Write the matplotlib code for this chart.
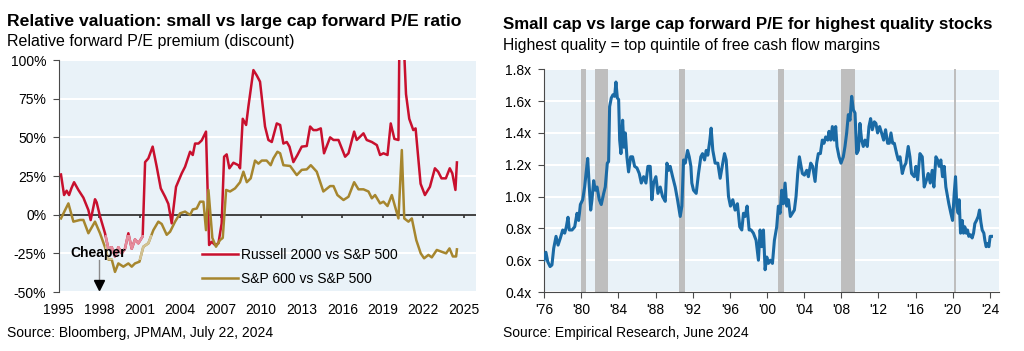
import matplotlib.pyplot as plt
from matplotlib.patches import Rectangle

plt.rcParams['font.family'] = ['Liberation Sans', 'DejaVu Sans']

# Left panel: relative forward P/E premium (discount), %
russell_years = [1995.17, 1995.40, 1995.59, 1995.77, 1995.94, 1996.14, 1996.46, 1996.83, 1997.20, 1997.37,
                 1997.69, 1997.81, 1998.06, 1998.43, 1998.68, 1998.93, 1999.17, 1999.42, 1999.67, 1999.91,
                 2000.16, 2000.41, 2000.65, 2000.90, 2001.22, 2001.40, 2001.64, 2001.96, 2002.26, 2002.56,
                 2002.88, 2003.12, 2003.37, 2003.69, 2004.11, 2004.36, 2004.73, 2004.93, 2005.10, 2005.35,
                 2005.59, 2005.91, 2006.14, 2006.33, 2006.58, 2006.83, 2007.07, 2007.25, 2007.44, 2007.64,
                 2007.94, 2008.31, 2008.43, 2008.63, 2008.88, 2009.05, 2009.42, 2009.67, 2009.91, 2010.28,
                 2010.53, 2010.78, 2011.15, 2011.40, 2011.64, 2011.89, 2012.09, 2012.38, 2012.68, 2013.00,
                 2013.37, 2013.62, 2013.86, 2014.11, 2014.41, 2014.65, 2015.10, 2015.35, 2015.72, 2016.21,
                 2016.46, 2016.88, 2017.07, 2017.57, 2017.81, 2018.19, 2018.56, 2018.80, 2019.05, 2019.35,
                 2019.59, 2019.86, 2020.16, 2020.25, 2020.46, 2020.72, 2020.96, 2021.26, 2021.43, 2021.80,
                 2022.12, 2022.49, 2022.86, 2023.10, 2023.35, 2023.67, 2023.96, 2024.15, 2024.38, 2024.49]
russell_pe = [26, 12.7, 15.5, 12.7, 17, 21, 16, 11, 3, -3.5,
              10, 8, -1, -12, -22, -21, -27, -21, -25, -22,
              -12, -22, -16, -18.5, -14, 34, 36.4, 44, 31, 17,
              11.6, 7, -5.6, 18, 26.7, 31, 40.7, 38.6, 46, 46,
              48, 53.7, -19.6, -17.5, -19.6, -18.5, -5.6, 37.5, 39, 30,
              33.6, 32, 30, 62, 58, 70, 93.5, 90, 86, 57,
              48.3, 47, 59, 58, 46, 47, 44, 34, 38.6, 44,
              44.4, 57, 54.7, 54.7, 55.8, 39.7, 50, 48.3, 48.3, 37.5,
              39.7, 53.7, 48.3, 52.6, 48.3, 47, 45, 38.6, 39.7, 38.6,
              59, 49, 48.3, 130, 130, 78, 62, 54.7, 55.8, 20,
              12.7, 18, 30, 27.8, 23.5, 23.5, 30, 26.7, 16, 33.8]

sp600_years = [1995.17, 1995.72, 1996.09, 1996.58, 1996.83, 1997.20, 1997.69, 1998.06, 1998.43, 1998.68,
               1998.93, 1999.17, 1999.42, 1999.79, 2000.16, 2000.41, 2000.65, 2000.98, 2001.27, 2001.64,
               2002.01, 2002.38, 2002.63, 2003.00, 2003.25, 2003.62, 2003.99, 2004.36, 2004.73, 2004.93,
               2005.22, 2005.47, 2005.72, 2005.91, 2006.09, 2006.38, 2006.65, 2006.95, 2007.15, 2007.40,
               2007.69, 2008.06, 2008.43, 2008.68, 2008.93, 2009.22, 2009.54, 2009.79, 2010.04, 2010.40,
               2010.70, 2010.90, 2011.20, 2011.40, 2011.64, 2012.14, 2012.63, 2013.00, 2013.37, 2013.67,
               2014.11, 2014.60, 2015.10, 2015.35, 2015.64, 2016.09, 2016.46, 2016.88, 2017.20, 2017.57,
               2017.94, 2018.19, 2018.43, 2018.80, 2019.05, 2019.35, 2019.67, 2019.91, 2020.16, 2020.41,
               2020.59, 2020.90, 2021.15, 2021.48, 2021.81, 2022.06, 2022.38, 2022.63, 2023.00, 2023.37,
               2023.69, 2023.94, 2024.19, 2024.43, 2024.49]
sp600_pe = [-2.4, 7.3, -4.5, -3.4, -3.4, -12, -4.5, -12, -21, -29,
            -29, -37, -31.5, -33.6, -31.5, -33.6, -31.5, -30.4, -20.7, -18.5,
            -10, -4.5, -6, -13, -11, -4.5, 0.9, 2, -0.2, 3.4,
            4, 8.4, 8.4, -10, 16, -15, -20.7, -16.4, -15, 16,
            15, 17, 21, 27.8, 21, 23.5, 35, 33, 35, 35,
            32, 36.4, 40.7, 39.7, 32, 31.5, 25.6, 29, 29.3, 32,
            27.8, 15, 18.5, 18.5, 12.7, 9.5, 11.6, 21, 16.4, 16.4,
            15, 10.6, 12.7, 7.3, 8.4, 5.6, 12.7, 5.2, -2.4, 41.8,
            -2.4, -4.5, -2.4, -16.4, -25, -28.2, -26, -27.6, -22.8, -24,
            -25, -21.8, -27, -27, -22.4]

pe_ticks = [-50, -25, 0, 25, 50, 75, 100]
pe_labels = ['-50%', '-25%', '0%', '25%', '50%', '75%', '100%']
year_ticks = list(range(1995, 2026, 3))

# Right panel: small vs large cap forward P/E, highest quality stocks
quality_years = [1976.00, 1976.20, 1976.40, 1976.65, 1976.85, 1977.04, 1977.29, 1977.51, 1977.76, 1978.01,
                 1978.22, 1978.40, 1978.58, 1978.72, 1979.01, 1979.30, 1979.55, 1979.73, 1979.91, 1980.16,
                 1980.37, 1980.52, 1980.70, 1980.87, 1981.02, 1981.16, 1981.34, 1981.52, 1981.70, 1981.95,
                 1982.16, 1982.42, 1982.59, 1982.81, 1982.95, 1983.06, 1983.24, 1983.42, 1983.60, 1983.74,
                 1983.89, 1984.03, 1984.14, 1984.28, 1984.46, 1984.60, 1984.75, 1984.92, 1985.10, 1985.32,
                 1985.53, 1985.75, 1986.00, 1986.25, 1986.47, 1986.72, 1986.97, 1987.18, 1987.43, 1987.61,
                 1987.79, 1988.04, 1988.26, 1988.51, 1988.76, 1989.05, 1989.23, 1989.41, 1989.58, 1989.84,
                 1990.12, 1990.37, 1990.66, 1990.84, 1991.02, 1991.20, 1991.45, 1991.63, 1991.81, 1991.91,
                 1992.09, 1992.38, 1992.63, 1992.88, 1993.06, 1993.28, 1993.46, 1993.63, 1993.85, 1993.99,
                 1994.17, 1994.42, 1994.71, 1994.96, 1995.21, 1995.43, 1995.61, 1995.86, 1996.07, 1996.32,
                 1996.57, 1996.82, 1997.07, 1997.29, 1997.47, 1997.65, 1997.86, 1998.08, 1998.29, 1998.54,
                 1998.83, 1999.08, 1999.26, 1999.44, 1999.62, 1999.80, 1999.98, 2000.16, 2000.37, 2000.59,
                 2000.80, 2001.05, 2001.23, 2001.41, 2001.59, 2001.77, 2001.95, 2002.13, 2002.31, 2002.52,
                 2002.74, 2002.95, 2003.13, 2003.31, 2003.49, 2003.67, 2003.81, 2004.03, 2004.28, 2004.46,
                 2004.71, 2004.92, 2005.18, 2005.35, 2005.53, 2005.75, 2005.96, 2006.14, 2006.32, 2006.54,
                 2006.68, 2006.86, 2007.04, 2007.22, 2007.40, 2007.54, 2007.76, 2007.97, 2008.22, 2008.40,
                 2008.58, 2008.76, 2008.94, 2009.12, 2009.30, 2009.48, 2009.66, 2009.84, 2010.01, 2010.19,
                 2010.37, 2010.55, 2010.80, 2010.98, 2011.16, 2011.34, 2011.56, 2011.73, 2011.91, 2012.13,
                 2012.34, 2012.56, 2012.77, 2012.99, 2013.17, 2013.35, 2013.53, 2013.71, 2013.96, 2014.14,
                 2014.32, 2014.57, 2014.78, 2014.96, 2015.21, 2015.39, 2015.57, 2015.86, 2016.04, 2016.22,
                 2016.47, 2016.72, 2016.93, 2017.18, 2017.36, 2017.58, 2017.79, 2017.97, 2018.19, 2018.37,
                 2018.54, 2018.72, 2018.90, 2019.08, 2019.26, 2019.44, 2019.58, 2019.80, 2019.98, 2020.16,
                 2020.30, 2020.44, 2020.59, 2020.69, 2020.84, 2021.02, 2021.16, 2021.30, 2021.45, 2021.59,
                 2021.73, 2021.91, 2022.09, 2022.24, 2022.38, 2022.56, 2022.74, 2022.88, 2023.03, 2023.17,
                 2023.35, 2023.46, 2023.60, 2023.74, 2023.89, 2024.03, 2024.17]
quality_ratio = [0.60, 0.65, 0.59, 0.56, 0.57, 0.675, 0.75, 0.695, 0.74, 0.79,
                 0.77, 0.81, 0.87, 0.79, 0.79, 0.81, 0.895, 0.85, 0.95, 0.98,
                 1.06, 1.145, 1.24, 1.06, 0.915, 0.98, 1.10, 1.04, 1.06, 0.98,
                 0.95, 1.02, 1.06, 1.21, 1.22, 1.565, 1.62, 1.64, 1.63, 1.72,
                 1.62, 1.61, 1.355, 1.27, 1.48, 1.31, 1.40, 1.25, 1.155, 1.25,
                 1.25, 1.19, 1.18, 1.145, 1.085, 1.125, 1.085, 1.19, 1.19, 0.98,
                 1.085, 1.125, 1.02, 1.06, 1.00, 0.97, 1.21, 1.165, 1.19, 1.125,
                 1.06, 0.98, 0.875, 0.94, 1.23, 1.21, 1.29, 1.25, 1.19, 1.085,
                 1.04, 1.02, 1.145, 1.25, 1.27, 1.23, 1.29, 1.26, 1.355, 1.43,
                 1.29, 1.21, 1.21, 1.115, 1.20, 1.27, 1.23, 1.00, 0.94, 0.98,
                 0.915, 0.955, 0.81, 0.79, 0.895, 0.875, 0.94, 0.79, 0.79, 0.77,
                 0.725, 0.60, 0.79, 0.685, 0.79, 0.54, 0.62, 0.58, 0.60, 0.58,
                 0.725, 0.81, 0.94, 0.895, 1.04, 0.955, 1.085, 0.94, 0.98, 0.875,
                 0.895, 0.915, 1.00, 1.145, 1.25, 1.19, 1.145, 1.135, 1.165, 1.125,
                 1.21, 1.19, 1.095, 1.21, 1.27, 1.27, 1.355, 1.335, 1.375, 1.355,
                 1.41, 1.355, 1.44, 1.355, 1.44, 1.315, 1.25, 1.21, 1.25, 1.315,
                 1.40, 1.515, 1.48, 1.63, 1.545, 1.525, 1.27, 1.29, 1.46, 1.355,
                 1.315, 1.355, 1.315, 1.44, 1.49, 1.42, 1.47, 1.46, 1.40, 1.44,
                 1.40, 1.355, 1.42, 1.335, 1.335, 1.40, 1.335, 1.335, 1.27, 1.23,
                 1.25, 1.145, 1.19, 1.21, 1.315, 1.25, 1.145, 1.125, 1.19, 1.105,
                 1.27, 1.25, 1.06, 1.105, 1.145, 1.085, 1.165, 1.06, 1.25, 1.23,
                 1.19, 1.23, 1.125, 1.19, 1.06, 1.00, 0.955, 0.895, 0.85, 1.02,
                 1.125, 0.94, 0.895, 0.98, 0.77, 0.85, 0.77, 0.81, 0.77, 0.79,
                 0.75, 0.76, 0.74, 0.77, 0.83, 0.85, 0.875, 0.915, 0.84, 0.79,
                 0.77, 0.725, 0.685, 0.705, 0.685, 0.75, 0.75]

recession_start = [1980.0, 1981.5, 1990.55, 2001.2, 2007.95, 2020.15]
recession_end = [1980.5, 1982.85, 1991.2, 2001.85, 2009.45, 2020.35]

ratio_ticks = [0.4, 0.6, 0.8, 1.0, 1.2, 1.4, 1.6, 1.8]
ratio_labels = ['0.4x', '0.6x', '0.8x', '1.0x', '1.2x', '1.4x', '1.6x', '1.8x']
quality_xticks = list(range(1976, 2025, 4))
quality_xlabels = ["'" + str(y)[2:] for y in quality_xticks]

RED = '#C8102E'
GOLD = '#A6862E'
BLUE = '#1A6AA5'
BG = '#E9F2F8'
AXC = '#4a4a4a'

fig = plt.figure(figsize=(10.24, 3.51), dpi=100)

# ---------- left chart ----------
ax1 = fig.add_axes([0.0573, 0.168, 0.4075, 0.661])
ax1.set_facecolor(BG)
ax1.set_xlim(1995, 2025.9)
ax1.set_ylim(-50, 100)
ax1.set_axisbelow(True)
ax1.grid(axis='y', color='white', lw=1.5)
ax1.grid(axis='x', visible=False)

ax1.plot(russell_years, russell_pe, color=RED, lw=1.8, zorder=3, label='Russell 2000 vs S&P 500')
ax1.plot(sp600_years, sp600_pe, color=GOLD, lw=1.8, zorder=3, label='S&P 600 vs S&P 500')

# faded section behind the "Cheaper" label
fade = Rectangle((1998.4, -29.5), 3.5, 16.5, transform=ax1.transData)
l1, = ax1.plot(russell_years, russell_pe, color='#E58C9C', lw=1.8, zorder=3.5)
l2, = ax1.plot(sp600_years, sp600_pe, color='#D2C293', lw=1.8, zorder=3.5)
l1.set_clip_path(fade)
l2.set_clip_path(fade)

ax1.axhline(0, color='#333333', lw=1.3, zorder=2.5)
ax1.vlines(year_ticks[1:], -2.2, 0, color='#333333', lw=1.2, zorder=2.5)

ax1.text(1995.9, -24.5, 'Cheaper', fontsize=10, fontweight='bold', va='center', zorder=6)
ax1.plot([1997.95, 1997.95], [-29.5, -43], color='#8a8a8a', lw=1, zorder=5)
ax1.plot(1997.95, -45.2, marker='v', color='black', ms=7, zorder=5, clip_on=False)

ax1.set_yticks(pe_ticks)
ax1.set_yticklabels(pe_labels)
ax1.set_xticks(year_ticks)
ax1.set_xticklabels([str(y) for y in year_ticks])
ax1.tick_params(axis='x', length=0, pad=8, labelsize=10)
ax1.tick_params(axis='y', length=4, color=AXC, pad=5, labelsize=10)
for s in ['top', 'right', 'bottom']:
    ax1.spines[s].set_visible(False)
ax1.spines['left'].set_color(AXC)

ax1.legend(loc='center left', bbox_to_anchor=(0.343, 0.108), frameon=False, fontsize=10,
           handlelength=2.6, handletextpad=0.2, labelspacing=0.75, borderpad=0, borderaxespad=0)

# ---------- right chart ----------
ax2 = fig.add_axes([0.5313, 0.168, 0.444, 0.6346])
ax2.set_facecolor(BG)
ax2.set_xlim(1976, 2024.95)
ax2.set_ylim(0.4, 1.8)
ax2.set_axisbelow(True)
ax2.grid(axis='y', color='white', lw=1.5)

for a, b in zip(recession_start, recession_end):
    ax2.axvspan(a, b, color='#BEBEBE', lw=0, zorder=1.5)

ax2.plot(quality_years, quality_ratio, color=BLUE, lw=2.2, zorder=3)

ax2.set_yticks(ratio_ticks)
ax2.set_yticklabels(ratio_labels)
ax2.set_xticks(quality_xticks)
ax2.set_xticklabels(quality_xlabels)
ax2.tick_params(axis='x', length=4, color=AXC, pad=4, labelsize=10)
ax2.tick_params(axis='y', length=4, color=AXC, pad=5, labelsize=10)
for s in ['top', 'right']:
    ax2.spines[s].set_visible(False)
ax2.spines['left'].set_color(AXC)
ax2.spines['bottom'].set_color(AXC)

# ---------- titles and sources ----------
fig.text(0.007, 0.938, 'Relative valuation: small vs large cap forward P/E ratio',
         fontsize=12.6, fontweight='bold', va='center')
fig.text(0.007, 0.883, 'Relative forward P/E premium (discount)', fontsize=11.5, va='center')
fig.text(0.007, 0.051, 'Source: Bloomberg, JPMAM, July 22, 2024', fontsize=10, va='center')

fig.text(0.491, 0.931, 'Small cap vs large cap forward P/E for highest quality stocks',
         fontsize=12.2, fontweight='bold', va='center')
fig.text(0.491, 0.869, 'Highest quality = top quintile of free cash flow margins', fontsize=11.3, va='center')
fig.text(0.491, 0.051, 'Source: Empirical Research, June 2024', fontsize=10, va='center')

fig.savefig('out.png', dpi=100)
